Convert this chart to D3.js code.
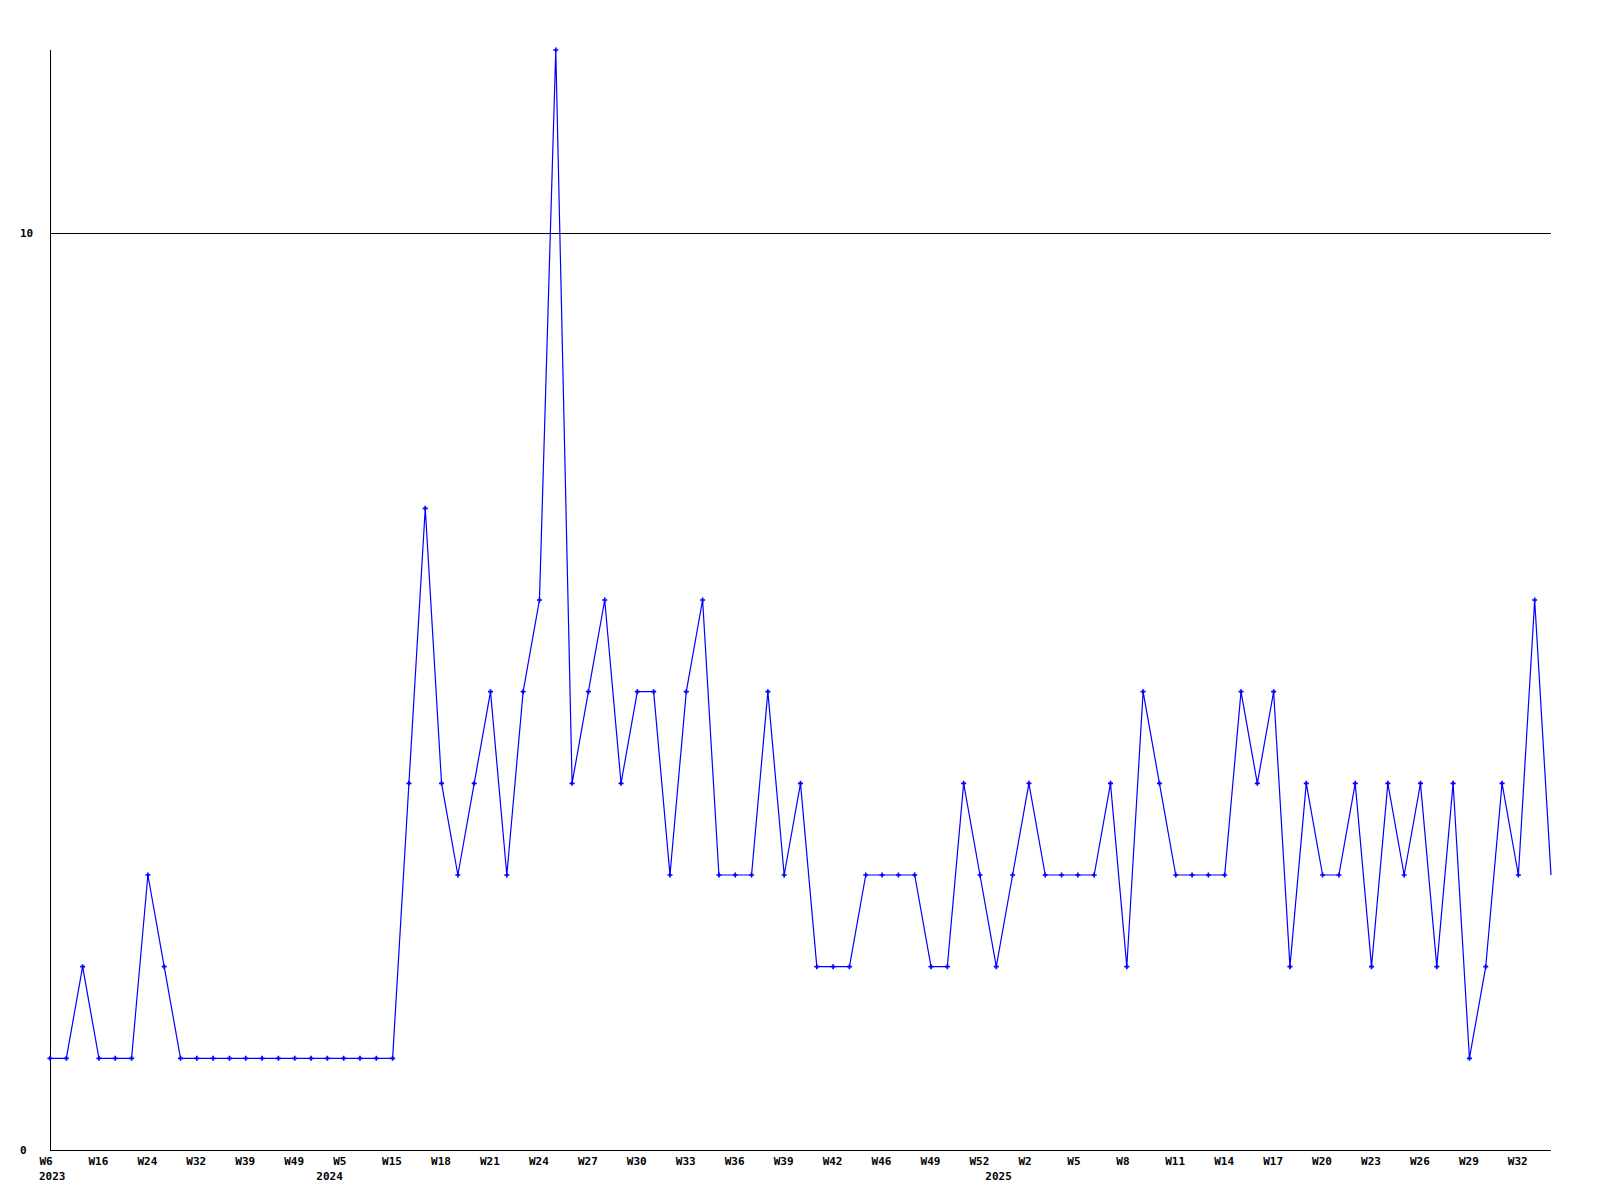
<!DOCTYPE html>
<html>
<head>
<meta charset="utf-8">
<script src="https://cdn.jsdelivr.net/npm/d3@7"></script>
<style>
  html, body { margin: 0; padding: 0; background: #fff; }
  svg { display: block; }
  text { font-family: "DejaVu Sans Mono", "Liberation Mono", monospace; font-weight: bold; font-size: 11px; fill: #000; }
</style>
</head>
<body>
<svg id="chart" width="1600" height="1200"></svg>
<script>
// Categories: year-week of each sample (weeks without data are skipped)
const years = [
  2023,2023,2023,2023,2023,2023,2023,2023,2023,2023,2023,2023,2023,2023,2023,2023,2023,
  2024,2024,2024,2024,2024,2024,2024,2024,2024,2024,2024,2024,2024,2024,2024,2024,2024,
  2024,2024,2024,2024,2024,2024,2024,2024,2024,2024,2024,2024,2024,2024,2024,2024,2024,
  2024,2024,2024,2024,2024,2024,2024,
  2025,2025,2025,2025,2025,2025,2025,2025,2025,2025,2025,2025,2025,2025,2025,2025,2025,
  2025,2025,2025,2025,2025,2025,2025,2025,2025,2025,2025,2025,2025,2025,2025,2025,2025,
  2025,2025
];
const weeks = [
  6,9,12,16,19,21,24,27,30,32,34,37,39,42,46,49,51,
  2,5,8,12,15,16,17,18,19,20,21,22,23,24,25,26,27,
  28,29,30,31,32,33,34,35,36,37,38,39,40,41,42,43,44,
  46,47,48,49,50,51,52,
  0,1,2,3,4,5,6,7,8,9,10,11,12,13,14,15,16,
  17,18,19,20,21,22,23,24,25,26,27,28,29,30,31,32,33,
  34
];
const categories = weeks.map((w, i) => years[i] + "-W" + w + "-" + i);

// Series values
const values = [
  1,1,2,1,1,1,3,2,1,1,1,1,1,1,1,1,1,
  1,1,1,1,1,4,7,4,3,4,5,3,5,6,12,4,5,
  6,4,5,5,3,5,6,3,3,3,5,3,4,2,2,2,3,
  3,3,3,2,2,4,3,
  2,3,4,3,3,3,3,4,2,5,4,3,3,3,3,5,4,
  5,2,4,3,3,4,2,4,3,4,2,4,1,2,4,3,6,
  3
];

// Tick labels
const tickIndices = [0,3,6,9,12,15,18,21,24,27,30,33,36,39,42,45,48,51,54,57,60,63,66,69,72,75,78,81,84,87,90];
const tickLabels = ["W6","W16","W24","W32","W39","W49","W5","W15","W18","W21","W24","W27","W30","W33","W36","W39","W42","W46","W49","W52","W2","W5","W8","W11","W14","W17","W20","W23","W26","W29","W32"];
const yearIndices = [0,17,58];
const yearLabels = ["2023","2024","2025"];
const yTicks = [0,10];

const svg = d3.select("#chart");
const mLeft = 50, mRight = 1551, mTop = 50, mBottom = 1150;

const x = d3.scalePoint().domain(categories).range([mLeft, mRight]);
const y = d3.scaleLinear().domain([0, 12]).range([mBottom, mTop]);

// Gridline at 10
svg.append("g").selectAll("line").data(yTicks.filter(d => d > 0)).join("line")
  .attr("x1", mLeft).attr("x2", mRight)
  .attr("y1", d => y(d) + 0.5).attr("y2", d => y(d) + 0.5)
  .attr("stroke", "#000").attr("stroke-width", 1).attr("shape-rendering", "crispEdges");

// Axes lines
svg.append("line").attr("x1", mLeft + 0.5).attr("x2", mLeft + 0.5).attr("y1", mTop).attr("y2", mBottom + 1)
  .attr("stroke", "#000").attr("shape-rendering", "crispEdges");
svg.append("line").attr("x1", mLeft).attr("x2", mRight).attr("y1", mBottom + 0.5).attr("y2", mBottom + 0.5)
  .attr("stroke", "#000").attr("shape-rendering", "crispEdges");

// Y labels
svg.append("g").selectAll("text").data(yTicks).join("text")
  .attr("x", 20).attr("y", d => y(d) + 4)
  .attr("text-anchor", "start")
  .text(d => d);

// X tick labels
svg.append("g").selectAll("text").data(tickIndices).join("text")
  .attr("x", (d) => x(categories[d]) - 10.5)
  .attr("y", 1165)
  .attr("text-anchor", "start")
  .text((d, i) => tickLabels[i]);

// Year labels
svg.append("g").selectAll("text").data(yearIndices).join("text")
  .attr("x", d => x(categories[d]) - 11)
  .attr("y", 1180)
  .attr("text-anchor", "start")
  .text((d, i) => yearLabels[i]);

// Line
const line = d3.line().x((d, i) => x(categories[i])).y(d => y(d));
svg.append("path").datum(values)
  .attr("d", line)
  .attr("fill", "none")
  .attr("stroke", "#0000ff")
  .attr("stroke-width", 1.2);

// Markers (last point has none)
svg.append("g").selectAll("path").data(values.slice(0, values.length - 1)).join("path")
  .attr("transform", (d, i) => `translate(${x(categories[i])},${y(d)})`)
  .attr("d", d3.symbol(d3.symbolCross, 14))
  .attr("fill", "#0000ff");
</script>
</body>
</html>
